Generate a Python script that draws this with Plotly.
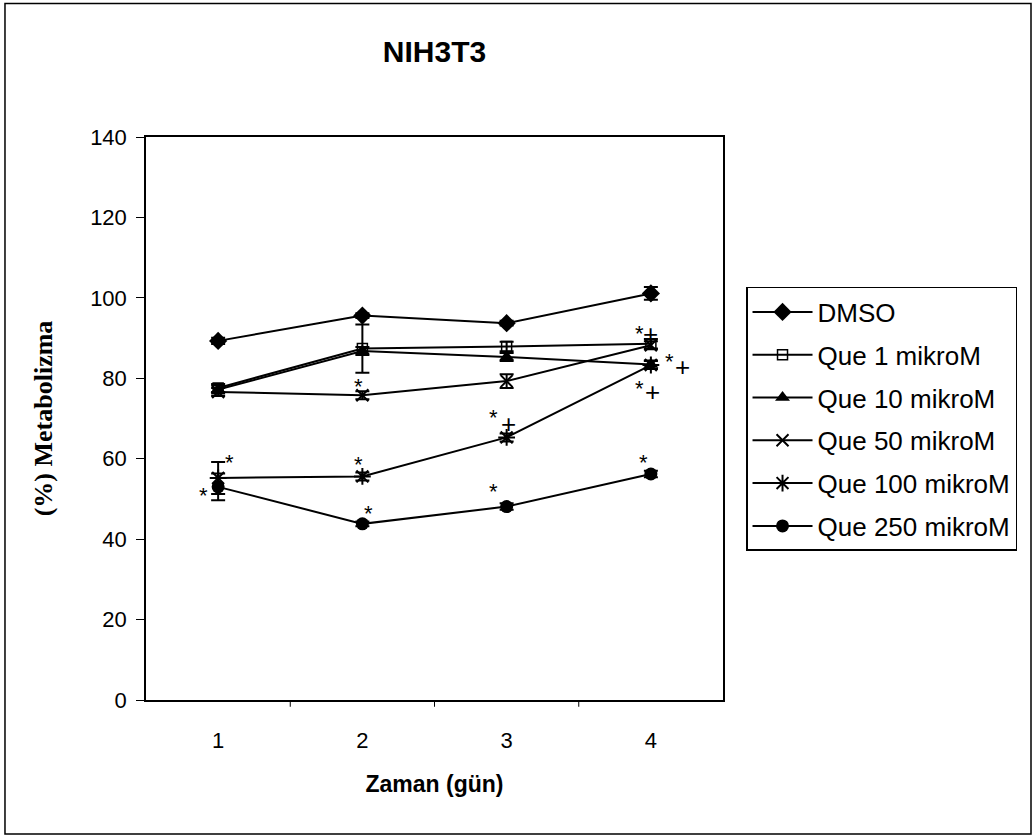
import plotly.graph_objects as go

# Days of measurement
days = [1, 2, 3, 4]
day_labels = ["1", "2", "3", "4"]

# Mean metabolic activity (%) per treatment
dmso = [89.3, 95.6, 93.7, 101.1]
que1 = [77.6, 87.4, 87.9, 88.6]
que10 = [77.2, 86.8, 85.3, 83.4]
que50 = [76.6, 75.8, 79.3, 88.2]
que100 = [55.2, 55.6, 65.3, 83.3]
que250 = [53.0, 43.8, 48.1, 56.2]

# Standard errors
dmso_err = [0.8, 0.6, 0.6, 1.6]
que1_err = [1.0, 6.0, 1.2, 1.2]
que10_err = [1.0, 1.0, 1.0, 1.0]
que50_err = [1.0, 1.0, 1.7, 1.0]
que100_err = [4.0, 1.0, 1.0, 1.0]
que250_err = [3.3, 0.6, 0.8, 0.8]

# Significance marks next to the points
mark_x = [1.08, 0.90, 1.97, 1.97, 2.04, 2.91, 3.01, 2.91, 3.92, 4.00, 4.13, 4.22, 3.92, 4.01, 3.95]
mark_y = [60.2, 52.2, 79.1, 59.9, 47.7, 71.4, 68.6, 53.2, 92.5, 91.0, 85.5, 82.8, 78.8, 76.6, 60.4]
mark_text = ["*", "*", "*", "*", "*", "*", "+", "*", "*", "+", "*", "+", "*", "+", "*"]

series = [
    ("DMSO", dmso, dmso_err, dict(symbol="diamond", size=14, color="black")),
    ("Que 1 mikroM", que1, que1_err,
     dict(symbol="square-open", size=10, color="black", line=dict(color="black", width=1.5))),
    ("Que 10 mikroM", que10, que10_err, dict(symbol="triangle-up", size=13, color="black")),
    ("Que 50 mikroM", que50, que50_err,
     dict(symbol="x-thin-open", size=12, color="black", line=dict(color="black", width=2))),
    ("Que 100 mikroM", que100, que100_err,
     dict(symbol="asterisk-open", size=14, color="black", line=dict(color="black", width=2))),
    ("Que 250 mikroM", que250, que250_err, dict(symbol="circle", size=13, color="black")),
]

fig = go.Figure()
for i, (name, vals, errs, marker) in enumerate(series):
    fig.add_trace(go.Scatter(
        x=days, y=vals, name=name, mode="lines+markers",
        line=dict(color="black", width=2),
        marker=marker,
        error_y=dict(type="data", array=errs, visible=True,
                     color="black", thickness=2, width=7),
        legendgroup=f"g{i}",
    ))

for x, y, t in zip(mark_x, mark_y, mark_text):
    fig.add_annotation(
        x=x, y=y, text=t, showarrow=False,
        font=dict(family="Liberation Sans, Arial", size=22 if t == "*" else 26, color="black"),
        yshift=-5 if t == "*" else 0,
    )

# Outer frame around the whole chart
fig.add_shape(type="rect", xref="paper", yref="paper",
              x0=-0.2444, x1=1.5338, y0=-0.238, y1=1.237,
              line=dict(color="black", width=1.5), fillcolor="rgba(0,0,0,0)")

# Minor category separators on the x axis
for b in [1.5, 2.5, 3.5]:
    fig.add_shape(type="line", xref="x", yref="paper", x0=b, x1=b, y0=0, y1=-0.012,
                  line=dict(color="black", width=1))

fig.update_layout(
    width=1036, height=838,
    margin=dict(l=146, r=313, t=137, b=138),
    paper_bgcolor="white", plot_bgcolor="white",
    font=dict(family="Liberation Sans, Arial", color="black", size=22),
    title=dict(text="<b>NIH3T3</b>", x=0.5, xanchor="center", xref="paper",
               y=0.938, yanchor="middle",
               font=dict(family="Liberation Sans, Arial", size=30, color="black")),
    showlegend=True,
    legend=dict(
        x=1.0399, y=0.7336, xanchor="left", yanchor="top",
        bordercolor="black", borderwidth=1.5, bgcolor="white",
        font=dict(family="Liberation Sans, Arial", size=26, color="black"),
        tracegroupgap=6, itemwidth=60,
    ),
    xaxis=dict(
        range=[0.5, 4.5], tickvals=days, ticktext=day_labels,
        showgrid=False, zeroline=False, showline=True, mirror=True,
        linecolor="black", linewidth=1.5,
        ticks="outside", ticklen=20, tickcolor="rgba(0,0,0,0)",
        title=dict(text="<b>Zaman (gün)</b>", standoff=24,
                   font=dict(family="Liberation Sans, Arial", size=23, color="black")),
        tickfont=dict(size=22),
    ),
    yaxis=dict(
        range=[0, 140], tickvals=[0, 20, 40, 60, 80, 100, 120, 140],
        showgrid=False, zeroline=False, showline=True, mirror=True,
        linecolor="black", linewidth=1.5, ticks="outside", ticklen=8,
        tickcolor="black", tickwidth=1, ticklabelstandoff=5,
        title=dict(text="<b>(%) Metabolizma</b>", standoff=30,
                   font=dict(family="Liberation Serif, Times New Roman", size=26, color="black")),
        tickfont=dict(size=22),
    ),
)

fig.write_html("out.html")
